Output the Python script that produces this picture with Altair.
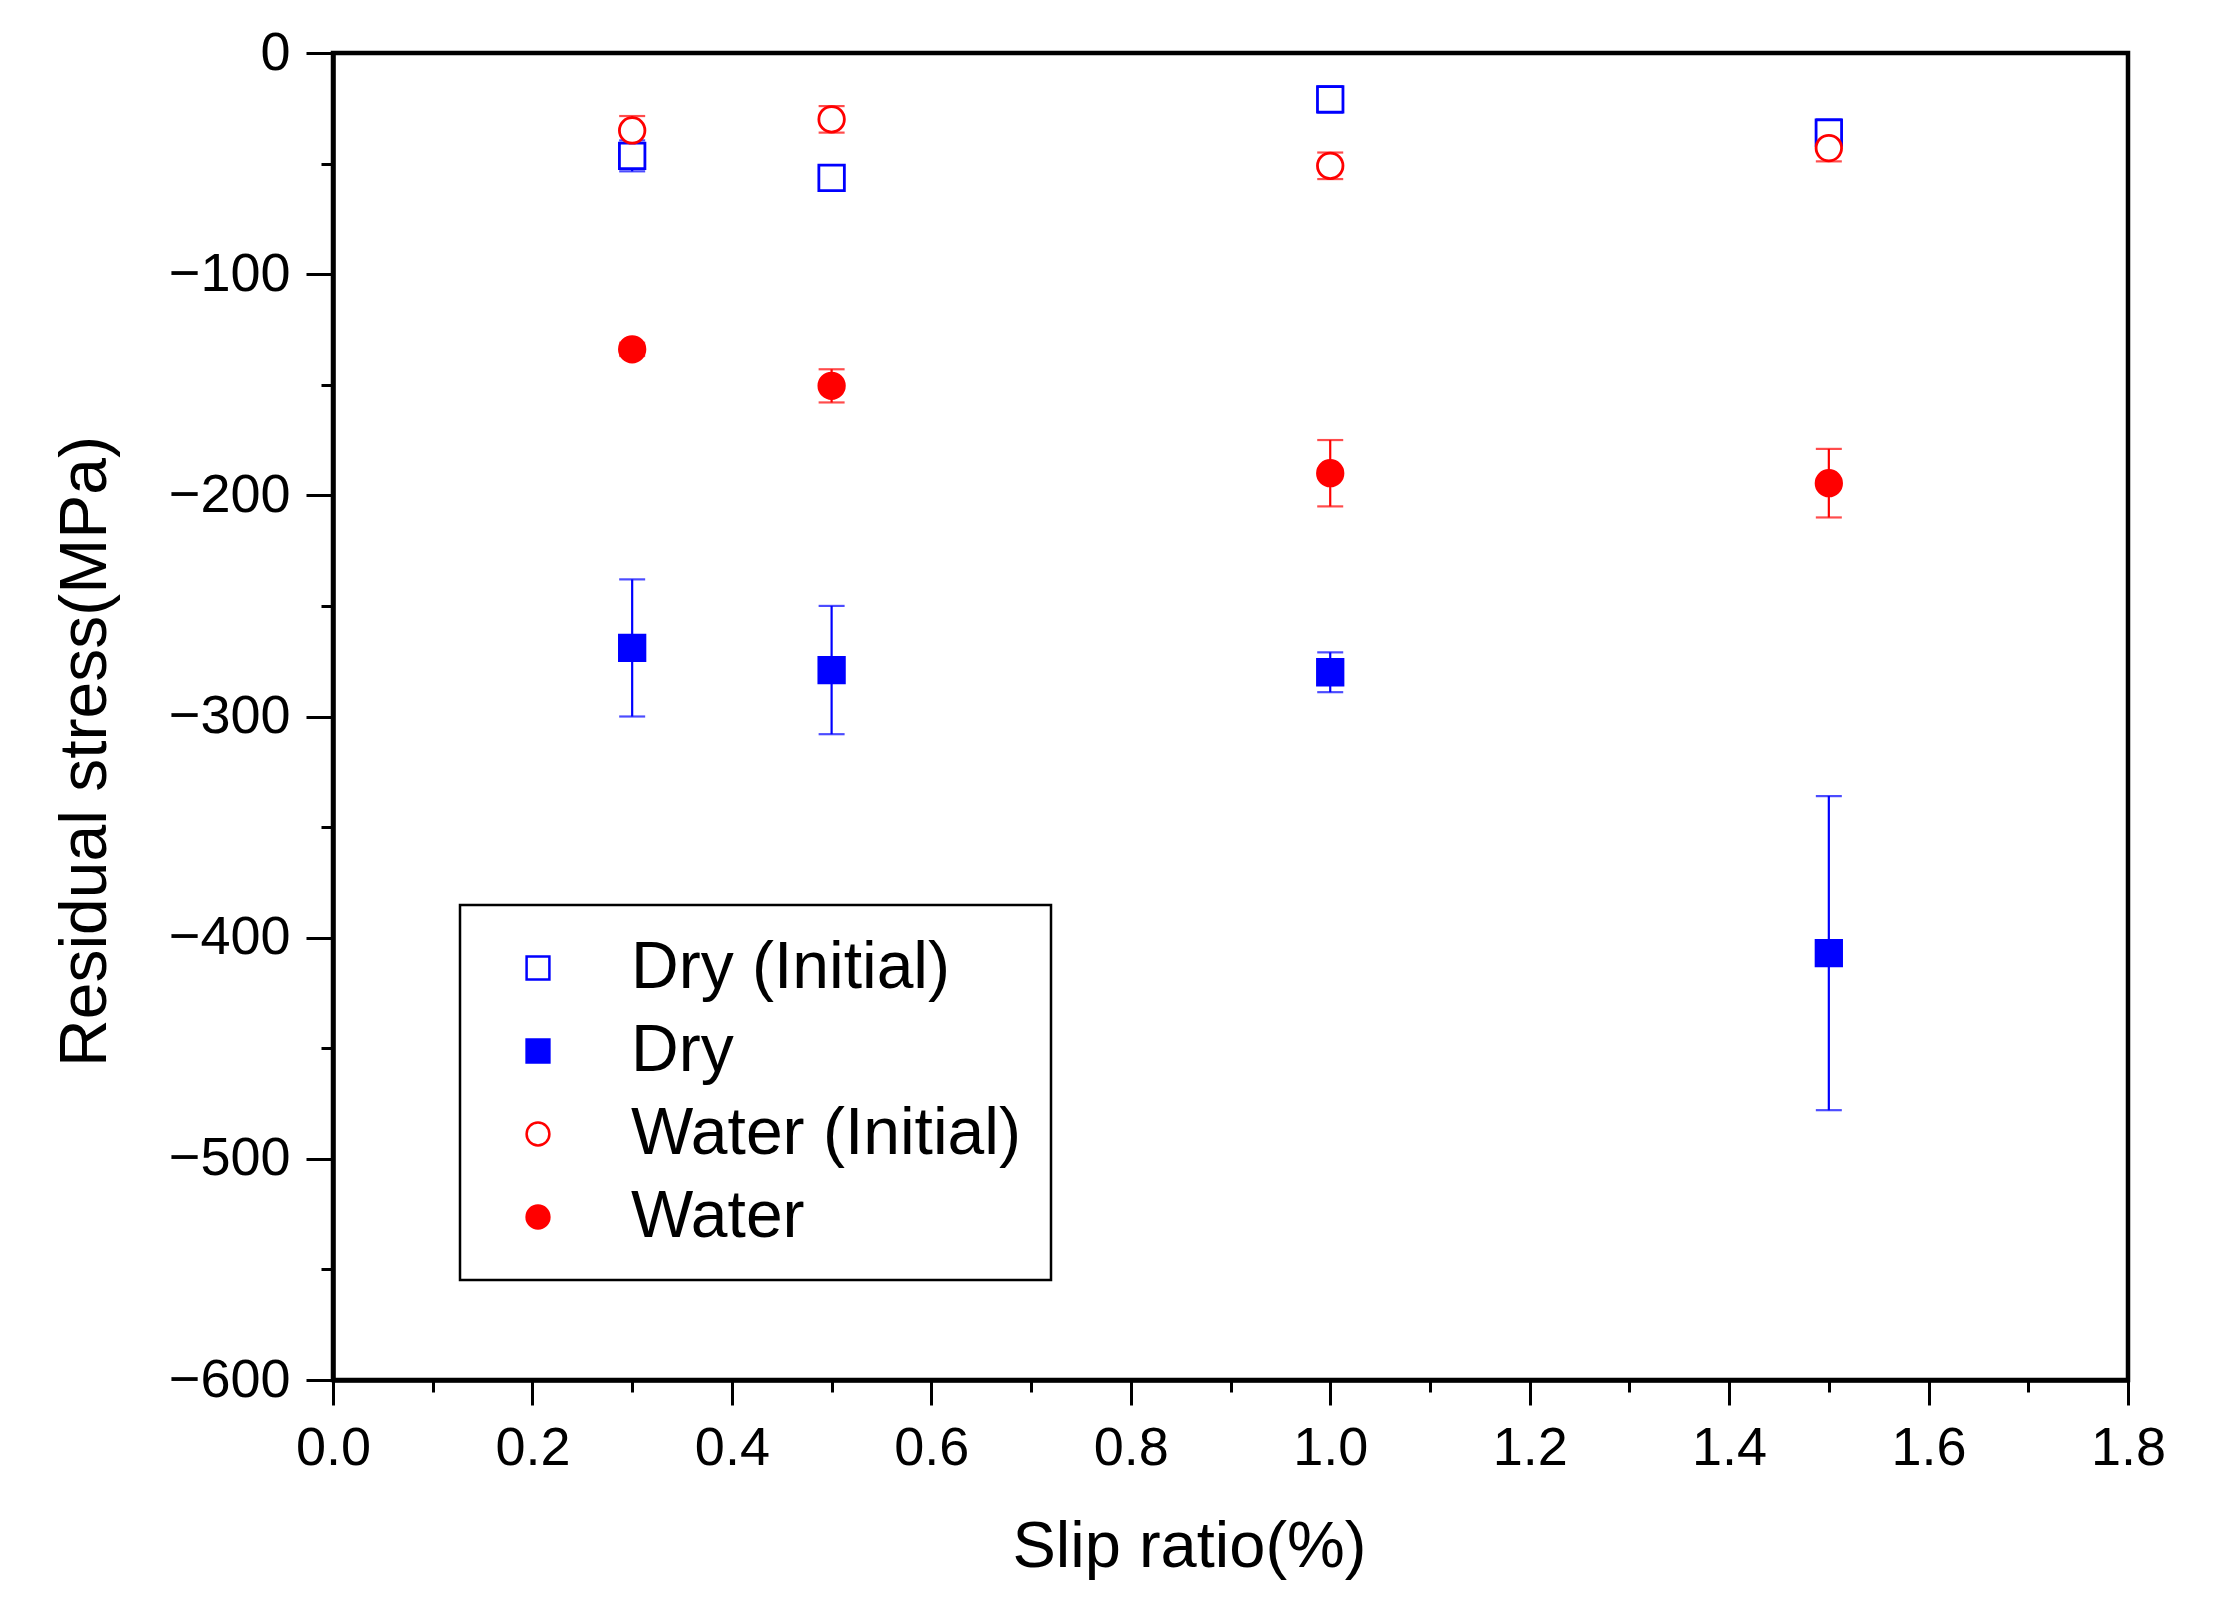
import altair as alt
import pandas as pd

# Slip ratio (%) at which each condition was measured
slip = [0.3, 0.5, 1.0, 1.5]

# Residual stress (MPa) and error half-widths
dry_init = [-46.5, -56.5, -21, -36]
dry_init_err = [7, 2, 6, 6]
dry = [-269, -279, -280, -407]
dry_err = [31, 29, 9, 71]
water_init = [-35, -30, -51, -43]
water_init_err = [6.5, 6, 6, 6]
water = [-134, -150.5, -190, -194.5]
water_err = [3, 7.5, 15, 15.5]

series_names = ["Dry (Initial)", "Dry", "Water (Initial)", "Water"]
series_colors = ["#0000FF", "#0000FF", "#FF0000", "#FF0000"]
series_fill = ["white", "#0000FF", "white", "#FF0000"]
series_shape = ["square", "square", "circle", "circle"]

x_minor = [0.1, 0.3, 0.5, 0.7, 0.9, 1.1, 1.3, 1.5, 1.7]
y_minor = [-50, -150, -250, -350, -450, -550]

rows = []
for name, color, vals, errs in zip(
    series_names, series_colors,
    [dry_init, dry, water_init, water],
    [dry_init_err, dry_err, water_init_err, water_err],
):
    for s, v, e in zip(slip, vals, errs):
        rows.append({"slip": s, "stress": v, "lo": v - e, "hi": v + e,
                     "series": name, "col": color})
df = pd.DataFrame(rows)

FONT = "Liberation Sans"

x_scale = alt.Scale(domain=[0, 1.8], nice=False, zero=False)
y_scale = alt.Scale(domain=[-600, 0], nice=False, zero=False)

x_axis = alt.Axis(values=[0, 0.2, 0.4, 0.6, 0.8, 1.0, 1.2, 1.4, 1.6, 1.8],
                  format=".1f", orient="bottom", grid=False,
                  tickSize=25, tickWidth=3, tickColor="black",
                  domainWidth=4.5, domainColor="black",
                  labelFont=FONT, labelFontSize=54, labelColor="black",
                  labelPadding=16, labelFlush=False, labelOverlap=False,
                  titleFont=FONT, titleFontSize=65, titleFontWeight="normal",
                  titleColor="black", titlePadding=40, titleX=856)
y_axis = alt.Axis(values=[0, -100, -200, -300, -400, -500, -600],
                  format="d", orient="left", grid=False,
                  tickSize=27, tickWidth=3, tickColor="black",
                  domainWidth=4.5, domainColor="black",
                  labelFont=FONT, labelFontSize=54, labelColor="black",
                  labelPadding=16, labelFlush=False, labelOverlap=False,
                  titleFont=FONT, titleFontSize=66, titleFontWeight="normal",
                  titleColor="black", titlePadding=49, titleY=698)

base = alt.Chart(df)

# error bars: vertical rule plus caps
bars = base.mark_rule(strokeWidth=2.2).encode(
    x=alt.X("slip:Q", scale=x_scale, axis=x_axis, title="Slip ratio(%)"),
    y=alt.Y("lo:Q", scale=y_scale, axis=y_axis, title="Residual stress(MPa)"),
    y2="hi:Q",
    stroke=alt.Stroke("col:N", scale=None),
)
cap_lo = base.mark_tick(orient="horizontal", size=26, thickness=2.2).encode(
    x="slip:Q", y="lo:Q", color=alt.Color("col:N", scale=None),
)
cap_hi = base.mark_tick(orient="horizontal", size=26, thickness=2.2).encode(
    x="slip:Q", y="hi:Q", color=alt.Color("col:N", scale=None),
)

points = base.mark_point(size=650, strokeWidth=2.8, opacity=1).encode(
    x="slip:Q",
    y="stress:Q",
    shape=alt.Shape("series:N", scale=alt.Scale(domain=series_names, range=series_shape),
                    title=None),
    stroke=alt.Stroke("series:N", scale=alt.Scale(domain=series_names, range=series_colors),
                      title=None),
    fill=alt.Fill("series:N", scale=alt.Scale(domain=series_names, range=series_fill),
                  title=None),
)

main = alt.layer(bars, cap_lo, cap_hi, points)

# minor ticks, drawn as a second set of axes without labels
minor = base.mark_point(opacity=0).encode(
    x=alt.X("slip:Q", scale=x_scale, title="",
            axis=alt.Axis(values=x_minor, orient="bottom", labels=False, domain=False,
                          grid=False, tickSize=12, tickWidth=3, tickColor="black")),
    y=alt.Y("stress:Q", scale=y_scale, title="",
            axis=alt.Axis(values=y_minor, orient="left", labels=False, domain=False,
                          grid=False, tickSize=12, tickWidth=3, tickColor="black")),
)

chart = alt.layer(main, minor).resolve_axis(
    x="independent", y="independent"
).properties(
    width=1795,
    height=1327,
    autosize=alt.AutoSizeParams(type="none"),
    padding={"left": 325, "top": 45, "right": 80, "bottom": 230},
    background="white",
).configure_view(
    stroke="black",
    strokeWidth=4.5,
).configure_legend(
    orient="none",
    legendX=127,
    legendY=852,
    strokeColor="black",
    strokeWidth=2.5,
    fillColor="white",
    padding=30,
    labelFont=FONT,
    labelFontSize=66,
    labelColor="black",
    labelLimit=800,
    labelOffset=60,
    symbolOffset=15,
    symbolSize=520,
    symbolStrokeWidth=2.5,
    rowPadding=17,
)

chart.save("out.html", embed_options={"renderer": "svg", "actions": False})
